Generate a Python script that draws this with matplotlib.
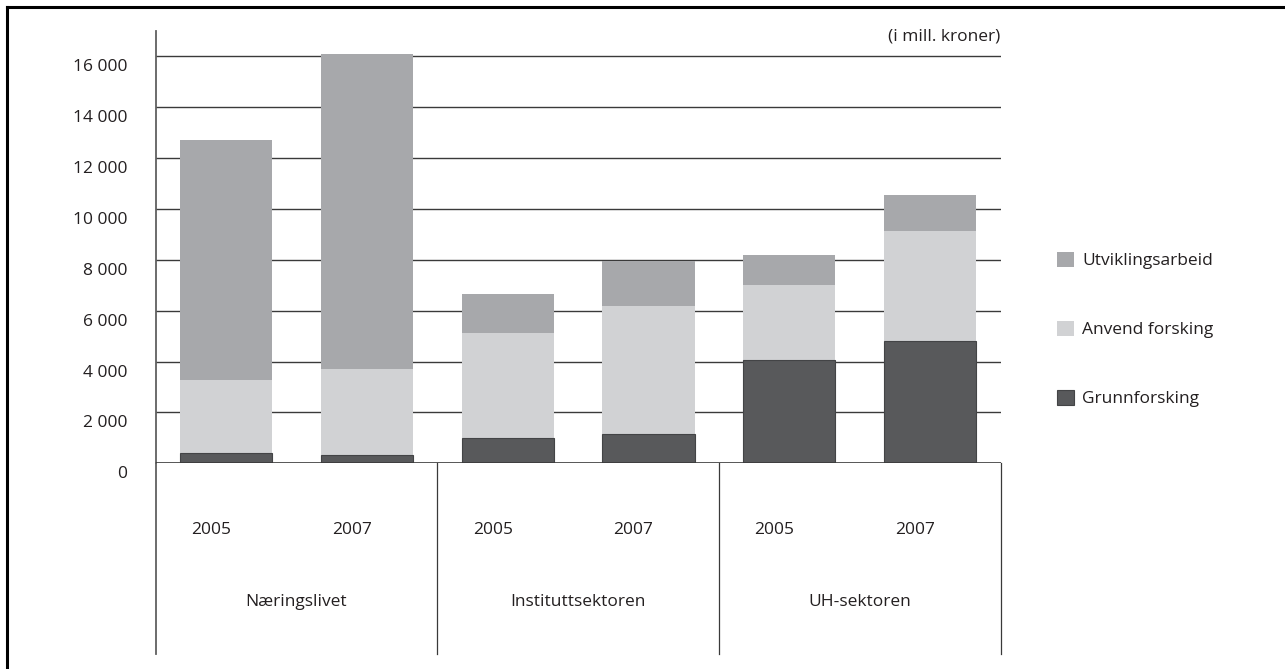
import matplotlib
matplotlib.use('Agg')
import matplotlib.pyplot as plt
import matplotlib.transforms as mtransforms
from matplotlib.lines import Line2D
import numpy as np

# data (i mill. kroner)
sektorer = ['Næringslivet', 'Instituttsektoren', 'UH-sektoren']
aar = ['2005', '2007', '2005', '2007', '2005', '2007']
grunnforsking = [390, 330, 980, 1140, 4060, 4790]
anvend_forsking = [2890, 3380, 4150, 5050, 2950, 4330]
utviklingsarbeid = [9440, 12400, 1530, 1780, 1190, 1440]
y_ticks = [0, 2000, 4000, 6000, 8000, 10000, 12000, 14000, 16000]
y_ticklabels = ['0', '2 000', '4 000', '6 000', '8 000', '10 000', '12 000', '14 000', '16 000']

plt.rcParams['font.family'] = ['Open Sans', 'DejaVu Sans']
text_color = '#231f20'
fs = 12.5

fig = plt.figure(figsize=(12.85, 6.69), dpi=100)
ax = fig.add_axes([0.1211, 0.3075, 0.6576, 0.6462])

x = np.arange(len(aar)) + 0.5
w = 0.654
g = np.array(grunnforsking)
a = np.array(anvend_forsking)
u = np.array(utviklingsarbeid)

# gridlines behind the bars
for t in y_ticks[1:]:
    ax.axhline(t, color='#3a3a3a', lw=1.0, zorder=1)

b_u = ax.bar(x, u, w, bottom=g + a, color='#a7a8ab', zorder=2, label='Utviklingsarbeid')
b_a = ax.bar(x, a, w, bottom=g, color='#d1d2d4', zorder=2, label='Anvend forsking')
b_g = ax.bar(x, g, w, color='#58595b', edgecolor='#434446', lw=0.8, zorder=3, label='Grunnforsking')
ax.axhline(0, color='#3a3a3a', lw=1.2, zorder=4)

ax.set_xlim(0, 6)
ax.set_ylim(0, 17000)

for s in ['top', 'right', 'bottom']:
    ax.spines[s].set_visible(False)
ax.spines['left'].set_color('#606060')
ax.spines['left'].set_linewidth(1.3)

ax.set_xticks([])
ax.set_yticks(y_ticks)
ax.set_yticklabels(y_ticklabels, fontsize=fs, color=text_color)
ax.tick_params(axis='y', length=0, pad=20.5)
offset = mtransforms.ScaledTranslation(0, -6.5 / 72, fig.dpi_scale_trans)
for lab in ax.get_yticklabels():
    lab.set_transform(lab.get_transform() + offset)

# category axis below the plot
trans = mtransforms.blended_transform_factory(ax.transData, ax.transAxes)
low = -0.441
ax.add_line(Line2D([0, 0], [0, low], transform=trans, color='#606060', lw=1.3, clip_on=False))
for sep in [2, 4, 6]:
    ax.add_line(Line2D([sep, sep], [0, low], transform=trans, color='#3a3a3a', lw=0.9, clip_on=False))

for xi, lab in zip(x, aar):
    ax.text(xi - 0.107, -0.154, lab, transform=trans, ha='center', va='center',
            fontsize=fs, color=text_color)
for i, s in enumerate(sektorer):
    ax.text(2 * i + 1, -0.321, s, transform=trans, ha='center', va='center',
            fontsize=fs, color=text_color)

ax.text(6, 0.988, '(i mill. kroner)', transform=trans, ha='right', va='center',
        fontsize=fs, color=text_color)

# legend
fig.legend(handles=[b_u, b_a, b_g], loc='center left',
           bbox_to_anchor=(1057 / 1285, 0.5075), frameon=False, fontsize=fs,
           handlelength=1.0, handleheight=1.0, handletextpad=0.45,
           labelspacing=2.95, borderpad=0, borderaxespad=0, labelcolor=text_color)

# outer frame (left and top only)
fig.add_artist(Line2D([6.5 / 1285, 6.5 / 1285], [0, 1 - 6.5 / 669], color='black', lw=2.2))
fig.add_artist(Line2D([6.5 / 1285, 1], [1 - 6.5 / 669, 1 - 6.5 / 669], color='black', lw=2.2))

fig.savefig('out.png', dpi=100)
